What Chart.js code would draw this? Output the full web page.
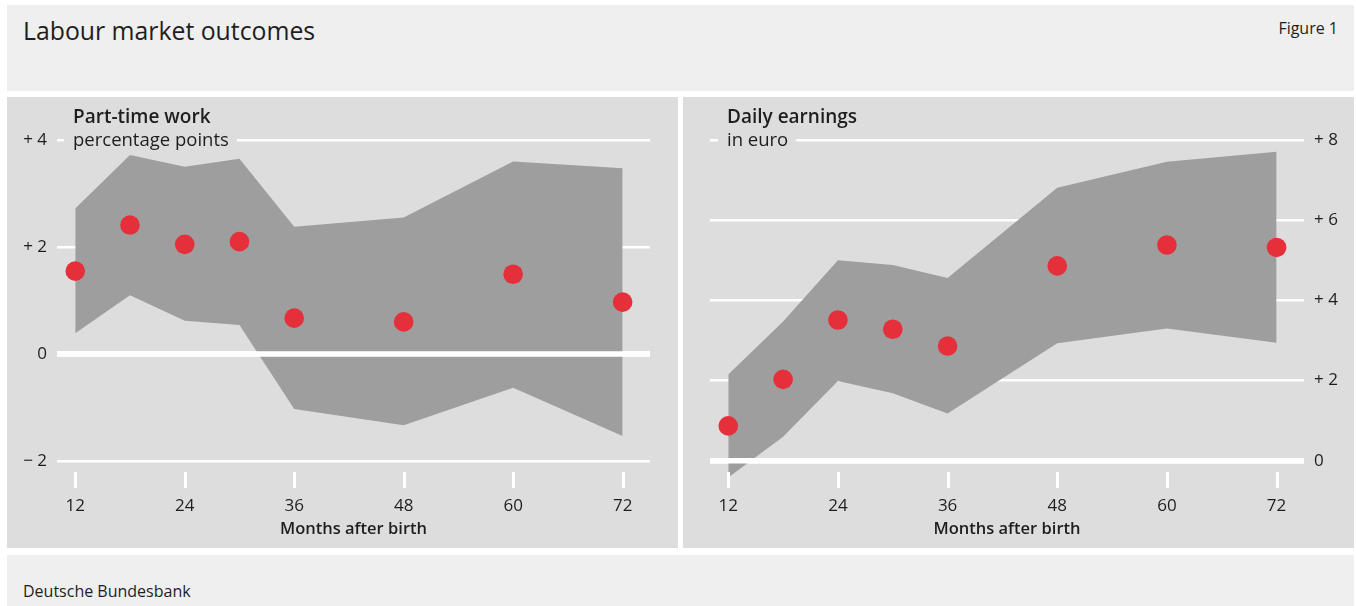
<!DOCTYPE html>
<html>
<head>
<meta charset="utf-8">
<script src="https://cdn.jsdelivr.net/npm/chart.js@4/dist/chart.umd.min.js"></script>
<style>
  html, body { margin:0; padding:0; background:#ffffff; }
  body { width:1356px; height:606px; position:relative; overflow:hidden; font-family:"Open Sans", sans-serif; color:#1e1e1e; }
  .box { position:absolute; background:#efefef; }
  .panel { position:absolute; background:#dcdddc; }
  #title { position:absolute; left:23px; top:13px; font-size:24.8px; line-height:34px; }
  #fig { position:absolute; right:18px; top:17px; font-size:16px; line-height:22px; }
  #src { position:absolute; left:23px; top:580px; font-size:16px; line-height:22px; }
  canvas { position:absolute; }
</style>
</head>
<body>
<div class="box" style="left:7px;top:5px;width:1347px;height:86px;"></div>
<div id="title">Labour market outcomes</div>
<div id="fig">Figure 1</div>
<div class="panel" style="left:7px;top:97px;width:671px;height:451px;"></div>
<div class="panel" style="left:683px;top:97px;width:671px;height:451px;"></div>
<div class="box" style="left:7px;top:555px;width:1347px;height:51px;"></div>
<div id="src">Deutsche Bundesbank</div>
<div style="position:absolute;left:7px;top:97px;width:671px;height:451px;"><canvas id="c1"></canvas></div>
<div style="position:absolute;left:683px;top:97px;width:671px;height:451px;"><canvas id="c2"></canvas></div>
<script>
// ---- data ----
const months = [12, 18, 24, 30, 36, 48, 60, 72];
const xTicks = [12, 24, 36, 48, 60, 72];

const partTimeEst   = [1.55, 2.41, 2.05, 2.10, 0.67, 0.60, 1.49, 0.97];
const partTimeUpper = [2.72, 3.72, 3.50, 3.65, 2.38, 2.55, 3.60, 3.47];
const partTimeLower = [0.39, 1.10, 0.62, 0.54, -1.03, -1.33, -0.63, -1.53];
const partTimeTicks = [-2, 0, 2, 4];

const earningsEst   = [0.87, 2.03, 3.51, 3.28, 2.86, 4.86, 5.38, 5.32];
const earningsUpper = [2.15, 3.47, 5.00, 4.88, 4.56, 6.81, 7.46, 7.71];
const earningsLower = [-0.42, 0.60, 1.99, 1.68, 1.18, 2.93, 3.30, 2.94];
const earningsTicks = [0, 2, 4, 6, 8];

const PANEL = '#dcdddc';
const BAND = '#9d9e9d';
const RED = '#e52f3a';
const TEXT = '#1e1e1e';
const FONT = '"Open Sans", sans-serif';

const pts = (ys) => months.map((m, i) => ({x: m, y: ys[i]}));
const fmt = (v) => v > 0 ? '+ ' + v : (v < 0 ? '\u2212 ' + Math.abs(v) : '0');

function makeChart(id, cfg) {
  const el = document.getElementById(id);
  el.width = 671; el.height = 451;
  el.style.width = '671px'; el.style.height = '451px';
  const overlay = {
    id: 'overlay',
    afterDatasetDraw(chart, args) {
      if (args.index !== 1) return;
      const ctx = chart.ctx, a = chart.chartArea, y = chart.scales.y.getPixelForValue(0);
      ctx.save();
      ctx.strokeStyle = '#ffffff'; ctx.lineWidth = 5.5;
      ctx.beginPath(); ctx.moveTo(a.left, y); ctx.lineTo(a.right, y); ctx.stroke();
      ctx.restore();
    },
    afterDraw(chart) {
      const ctx = chart.ctx, a = chart.chartArea, xs = chart.scales.x;
      ctx.save();
      // x tick marks
      ctx.strokeStyle = '#ffffff'; ctx.lineWidth = 3;
      xTicks.forEach(v => {
        const x = Math.round(xs.getPixelForValue(v)) + 0.5;
        ctx.beginPath(); ctx.moveTo(x, 375); ctx.lineTo(x, 391); ctx.stroke();
      });
      // headings
      ctx.textBaseline = 'middle';
      ctx.textAlign = 'left';
      ctx.font = '400 18.5px ' + FONT;
      const w = ctx.measureText(cfg.sub).width;
      ctx.fillStyle = PANEL;
      ctx.fillRect(cfg.titleX - 9, 34, w + 17, 20);
      ctx.fillStyle = TEXT;
      ctx.fillText(cfg.sub, cfg.titleX, 44);
      ctx.font = '600 19px ' + FONT;
      ctx.fillText(cfg.title, cfg.titleX, 21);
      // x axis title
      ctx.textAlign = 'center';
      ctx.font = '600 16.5px ' + FONT;
      ctx.fillText('Months after birth', (a.left + a.right) / 2, 432);
      ctx.restore();
    }
  };
  return new Chart(el, {
    type: 'line',
    data: {
      datasets: [
        { type: 'scatter', data: pts(cfg.est), pointRadius: 9.8, pointBackgroundColor: RED, pointBorderWidth: 0, showLine: false, clip: false },
        { data: pts(cfg.lower), borderWidth: 0, pointRadius: 0, fill: false, tension: 0, clip: false },
        { data: pts(cfg.upper), borderWidth: 0, pointRadius: 0, fill: '-1', backgroundColor: BAND, tension: 0, clip: false }
      ]
    },
    options: {
      responsive: false,
      animation: false,
      events: [],
      layout: { padding: cfg.padding },
      plugins: { legend: { display: false }, tooltip: { enabled: false }, filler: { propagate: false } },
      scales: {
        x: {
          type: 'linear', min: 10, max: 75,
          afterBuildTicks: (ax) => { ax.ticks = xTicks.map(v => ({value: v})); },
          afterFit: (ax) => { ax.height = 69; },
          grid: { display: false, drawTicks: false },
          border: { display: false },
          ticks: { color: TEXT, font: { family: FONT, size: 17 }, padding: 17, maxRotation: 0, autoSkip: false }
        },
        y: {
          position: cfg.yPos,
          min: cfg.yMin, max: cfg.yMax,
          afterBuildTicks: (ax) => { ax.ticks = cfg.yTicks.map(v => ({value: v})); },
          afterFit: (ax) => { ax.width = cfg.yWidth; },
          grid: { color: '#ffffff', lineWidth: (c) => c.tick && c.tick.value === 0 ? 5.5 : 2.5, drawTicks: false },
          border: { display: false },
          ticks: { color: TEXT, font: { family: FONT, size: 17 }, padding: 10, callback: fmt, autoSkip: false }
        }
      }
    },
    plugins: [overlay]
  });
}

makeChart('c1', {
  est: partTimeEst, upper: partTimeUpper, lower: partTimeLower,
  yTicks: partTimeTicks, yMin: -2.336, yMax: 4, yPos: 'left', yWidth: 50,
  padding: { top: 43, right: 28, left: 0, bottom: 0 },
  title: 'Part-time work', sub: 'percentage points', titleX: 66
});
makeChart('c2', {
  est: earningsEst, upper: earningsUpper, lower: earningsLower,
  yTicks: earningsTicks, yMin: -0.456, yMax: 8, yPos: 'right', yWidth: 50,
  padding: { top: 43, right: 0, left: 27, bottom: 0 },
  title: 'Daily earnings', sub: 'in euro', titleX: 44
});
</script>
</body>
</html>
